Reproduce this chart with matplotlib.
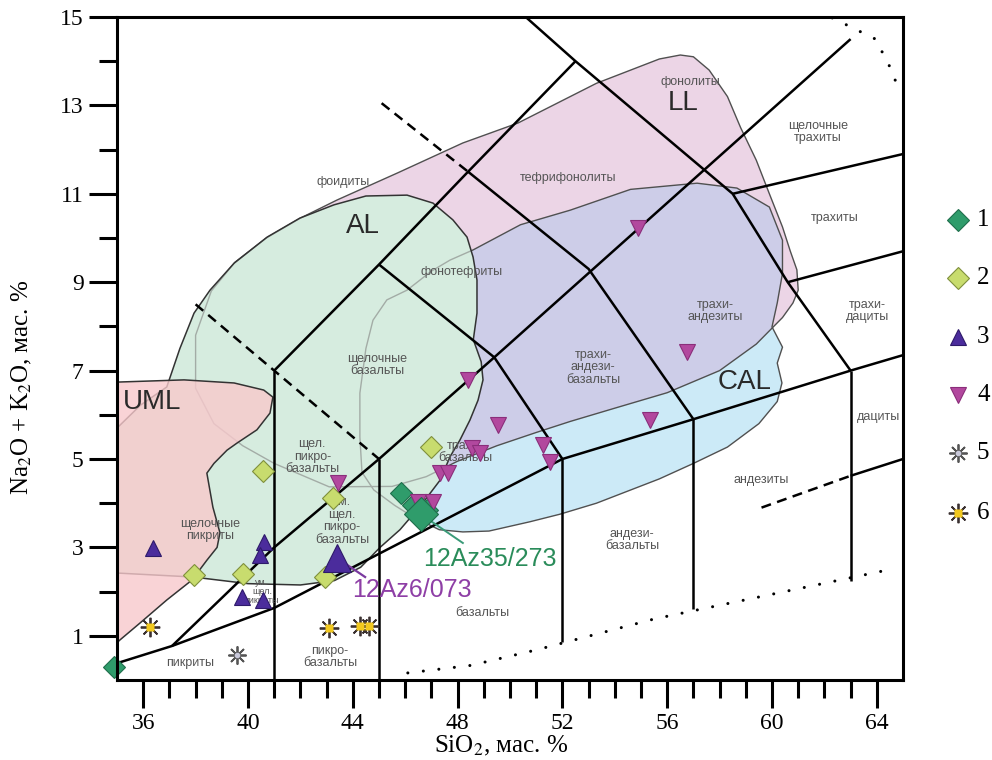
import matplotlib
matplotlib.use("Agg")
import matplotlib.pyplot as plt
from matplotlib.patches import Polygon

plt.rcParams["font.family"] = ["Liberation Serif", "DejaVu Serif"]
plt.rcParams["mathtext.fontset"] = "stix"

# ---- пробы: SiO2 / Na2O+K2O, мас. % ----
sio2_1 = [34.9, 45.85, 46.3, 46.85]
alk_1 = [0.3, 4.23, 3.95, 3.85]
sio2_2 = [40.57, 43.24, 37.94, 39.81, 42.94, 47.0]
alk_2 = [4.73, 4.12, 2.38, 2.40, 2.33, 5.27]
sio2_3 = [36.37, 40.6, 40.46, 39.77, 40.57]
alk_3 = [2.99, 3.13, 2.83, 1.88, 1.81]
sio2_4 = [43.43, 48.4, 49.55, 48.55, 48.85, 47.33, 47.63, 46.49, 47.06,
          51.26, 51.53, 55.34, 56.76, 54.9]
alk_4 = [4.45, 6.79, 5.77, 5.25, 5.13, 4.68, 4.68, 4.03, 4.03,
         5.32, 4.93, 5.88, 7.42, 10.23]
sio2_5 = [39.58]
alk_5 = [0.57]
sio2_6 = [36.26, 43.09, 44.27, 44.6]
alk_6 = [1.2, 1.18, 1.22, 1.22]

# выделенные пробы
az35_name, az35 = "12Az35/273", (46.6, 3.75)
az6_name, az6 = "12Az6/073", (43.4, 2.76)

# ---- границы классификационных полей ----
tas_solid = [
    [(35.0, 0.38), (37.1, 0.77), (41.0, 1.63), (52.0, 5.0), (57.0, 5.9), (63.0, 7.0), (65.0, 7.35)],
    [(37.1, 0.77), (41.0, 3.0), (45.0, 5.0), (49.4, 7.3), (63.0, 14.5)],
    [(41.0, 0.0), (41.0, 7.0)],
    [(45.0, 0.0), (45.0, 5.0)],
    [(52.0, 0.85), (52.0, 5.0)],
    [(57.0, 1.6), (57.0, 5.9)],
    [(63.0, 2.25), (63.0, 7.0)],
    [(41.0, 7.0), (45.0, 9.4), (48.4, 11.5), (52.5, 14.0)],
    [(50.6, 15.0), (52.5, 14.0), (58.5, 11.0), (60.6, 9.0), (63.0, 7.0)],
    [(45.0, 9.4), (49.4, 7.3), (52.0, 5.0)],
    [(48.4, 11.5), (53.0, 9.3), (57.0, 5.9)],
    [(58.5, 11.0), (65.0, 11.9)],
    [(60.6, 9.0), (65.0, 9.7)],
    [(63.0, 4.62), (65.0, 5.0)],
]
tas_dashed = [
    [(38.0, 8.5), (45.0, 5.0)],
    [(45.1, 13.05), (48.4, 11.5)],
    [(59.6, 3.9), (63.0, 4.62)],
]
tas_dotted = [
    [(46.1, 0.16), (48.5, 0.33), (51.0, 0.68), (55.5, 1.38), (64.5, 2.5)],
    [(62.3, 14.98), (63.4, 14.66), (63.95, 14.5), (64.5, 13.87), (64.75, 13.5)],
]

# ---- контуры серий ----
ll_edge = [(38.0, 7.8), (38.6, 8.8), (39.5, 9.45), (40.7, 10.0), (42.0, 10.45), (43.4, 10.86),
           (45.7, 11.47), (48.2, 12.15), (50.3, 12.6), (53.3, 13.5), (55.7, 14.05), (56.5, 14.14),
           (57.0, 14.1), (57.6, 13.8), (58.3, 13.2), (58.8, 12.5), (59.4, 11.76), (59.9, 11.0),
           (60.4, 10.25), (60.7, 9.7), (60.95, 9.28), (61.0, 8.82), (60.8, 8.53), (60.4, 8.2),
           (60.2, 8.08), (59.4, 7.6), (58.0, 7.0), (56.0, 6.5), (54.0, 6.15), (52.3, 5.85),
           (51.0, 5.6), (49.5, 5.3), (48.0, 4.95), (46.8, 4.6), (45.5, 4.38), (43.1, 4.37),
           (41.0, 4.9), (39.8, 5.3), (38.7, 5.8), (38.0, 6.6)]
cal_edge = [(48.59, 9.73), (50.4, 10.3), (52.3, 10.63), (54.6, 11.1), (57.14, 11.24), (58.66, 11.13),
            (59.9, 10.7), (60.4, 9.95), (60.4, 9.2), (60.2, 8.53), (60.0, 7.99), (60.4, 7.53),
            (60.2, 7.17), (60.38, 6.72), (60.2, 6.3), (59.5, 5.8), (58.3, 5.27), (57.0, 4.9),
            (55.7, 4.55), (53.3, 4.0), (51.9, 3.75), (50.76, 3.58), (49.2, 3.37), (48.2, 3.35),
            (47.3, 3.4), (46.3, 3.69), (45.6, 3.95), (44.8, 4.3), (44.35, 4.7), (44.27, 5.5),
            (44.27, 6.49), (44.5, 7.5), (44.77, 8.14), (45.3, 8.6), (46.07, 8.82), (47.0, 9.25),
            (47.71, 9.5)]
al_edge = [(34.5, 5.45), (35.0, 5.7), (35.9, 6.22), (36.9, 6.63), (37.4, 7.5), (37.94, 8.3),
           (38.55, 8.82), (39.47, 9.43), (40.73, 10.02), (41.98, 10.45), (43.28, 10.75),
           (44.5, 10.95), (46.07, 10.97), (47.06, 10.79), (47.82, 10.41), (48.36, 10.02),
           (48.59, 9.57), (48.74, 9.05), (48.74, 8.3), (48.6, 7.7), (48.9, 7.2), (48.97, 6.79),
           (48.78, 6.33), (48.47, 5.88), (48.09, 5.43), (47.71, 5.05), (47.33, 4.52), (46.6, 3.95),
           (45.8, 3.4), (45.04, 3.0), (44.3, 2.55), (43.3, 2.25), (42.0, 2.15), (40.0, 2.18),
           (37.9, 2.33), (35.0, 2.42), (34.5, 2.45)]
uml_edge = [(34.5, 0.6), (35.0, 0.84), (35.1, 0.9), (35.88, 1.29), (36.9, 1.81), (37.86, 2.26),
            (38.43, 2.71), (38.82, 3.0), (38.93, 3.33), (38.66, 3.91), (38.43, 4.68), (38.7, 4.9),
            (39.2, 5.2), (39.58, 5.36), (40.34, 5.66), (40.84, 6.04), (40.95, 6.4), (40.6, 6.56),
            (39.47, 6.72), (37.56, 6.79), (35.0, 6.74), (34.5, 6.74)]

# ---- названия полей ----
field_names = [
    ("фоидиты", 43.63, 11.27), ("тефрифонолиты", 52.2, 11.36), ("фонолиты", 56.87, 13.53),
    ("щелочные\nтрахиты", 61.76, 12.4), ("трахиты", 62.4, 10.45), ("трахи-\nдациты", 63.63, 8.35),
    ("дациты", 64.05, 5.95), ("трахи-\nандезиты", 57.82, 8.35), ("фонотефриты", 48.17, 9.23),
    ("щелочные\nбазальты", 44.92, 7.13), ("трахи-\nандези-\nбазальты", 53.17, 7.08),
    ("трахи-\nбазальты", 48.28, 5.16), ("щел.\nпикро-\nбазальты", 42.45, 5.05),
    ("ум.\nщел.\nпикро-\nбазальты", 43.59, 3.6), ("андезиты", 59.6, 4.52),
    ("андези-\nбазальты", 54.66, 3.17), ("базальты", 48.93, 1.52),
    ("пикро-\nбазальты", 43.13, 0.52), ("пикриты", 37.79, 0.38),
    ("щелочные\nпикриты", 38.55, 3.39),
]
small_names = [("ум.\nщел.\nпикриты", 40.53, 2.01)]
series_names = [("LL", 56.6, 13.05), ("AL", 44.39, 10.27), ("CAL", 58.97, 6.74), ("UML", 36.34, 6.29)]

sans = ["Liberation Sans", "DejaVu Sans"]

fig = plt.figure(figsize=(9.92, 7.6), dpi=100)
ax = fig.add_axes([117 / 992, 80 / 760, 786 / 992, 663 / 760])
ax.set_xlim(35, 65)
ax.set_ylim(0, 15)

# заливки серий
ll = Polygon(ll_edge, closed=True, fc="#ecd5e6", ec="none", zorder=1)
cal = Polygon(cal_edge, closed=True, fc="#cceaf7", ec="none", zorder=1.1)
ax.add_patch(ll)
ax.add_patch(cal)
both = Polygon(cal_edge, closed=True, fc="#cdcde8", ec="none", zorder=1.2)
ax.add_patch(both)
both.set_clip_path(ll)
for pts in (ll_edge, cal_edge):
    ax.add_patch(Polygon(pts, closed=True, fc="none", ec="#505050", lw=1.0, zorder=1.3))

al = Polygon(al_edge, closed=True, fc="#d6ecdf", ec="none", zorder=2)
ax.add_patch(al)
for pts in (ll_edge, cal_edge):
    ghost = Polygon(pts, closed=True, fc="none", ec="#a3aca6", lw=1.0, zorder=2.1)
    ax.add_patch(ghost)
    ghost.set_clip_path(al)
ax.add_patch(Polygon(al_edge, closed=True, fc="none", ec="#333333", lw=1.1, zorder=2.2))

ax.add_patch(Polygon(uml_edge, closed=True, fc="#f8c9cc", ec="none", alpha=0.8, zorder=3))
ax.add_patch(Polygon(uml_edge, closed=True, fc="none", ec="#333333", lw=1.1, zorder=3.1))

# линии диаграммы
for seg in tas_solid:
    xs, ys = zip(*seg)
    ax.plot(xs, ys, color="black", lw=1.8, zorder=4, solid_capstyle="butt")
for seg in tas_dashed:
    xs, ys = zip(*seg)
    ax.plot(xs, ys, color="black", lw=1.8, ls=(0, (4.0, 2.6)), zorder=4)
for seg in tas_dotted:
    xs, ys = zip(*seg)
    ax.plot(xs, ys, color="black", lw=2.2, ls=(0, (0.01, 5.1)),
            dash_capstyle="round", zorder=4)

for txt, x, y in field_names:
    ax.text(x, y, txt, ha="center", va="center", fontsize=9, color="#555555",
            family=sans, linespacing=1.05, zorder=5)
for txt, x, y in small_names:
    ax.text(x, y, txt, ha="center", va="center", fontsize=6.5, color="#555555",
            family=sans, linespacing=1.0, zorder=5)
for txt, x, y in series_names:
    ax.text(x, y, txt, ha="center", va="center", fontsize=20, color="#2a2a2a",
            family=sans, zorder=5)

# точки
styles = [
    dict(marker="D", ms=11, mfc="#2f9c6b", mec="#1f6e4c", mew=0.8),
    dict(marker="D", ms=11, mfc="#c8dc6e", mec="#7f8f3c", mew=0.8),
    dict(marker="^", ms=12, mfc="#4b2c9c", mec="#2e1a6a", mew=0.8),
    dict(marker="v", ms=11, mfc="#b2489e", mec="#8a2e7a", mew=0.8),
]
groups = [(sio2_1, alk_1), (sio2_2, alk_2), (sio2_3, alk_3), (sio2_4, alk_4)]
for (xs, ys), st in zip(groups, styles):
    ax.plot(xs, ys, ls="none", zorder=6, clip_on=False, **st)

ax.plot(sio2_5, alk_5, ls="none", marker=(8, 2, 0), ms=13, mec="#555555", mew=1.3, zorder=6)
ax.plot(sio2_5, alk_5, ls="none", marker="o", ms=4, mfc="#c9c9db", mec="none", zorder=6.1)
ax.plot(sio2_6, alk_6, ls="none", marker=(8, 2, 0), ms=14, mec="#3a3030", mew=1.3, zorder=6)
ax.plot(sio2_6, alk_6, ls="none", marker="s", ms=6, mfc="#f2c81e", mec="none", zorder=6.1)

# выделенные пробы с подписями
ax.plot([az35[0], 48.2], [az35[1], 3.1], color="#3a9a78", lw=1.4, zorder=5.5)
ax.plot(*az35, ls="none", marker="D", ms=17, mfc="#2f9c6b", mec="#1f6e4c", mew=0.8, zorder=6)
ax.text(46.68, 2.74, az35_name, fontsize=18, color="#2a8c5a", family=sans,
        ha="left", va="center", zorder=7)
ax.plot([az6[0], 44.47], [az6[1], 2.33], color="#7a3aa0", lw=1.6, zorder=5.5)
ax.plot(*az6, ls="none", marker="^", ms=20, mfc="#4b2c9c", mec="#2e1a6a", mew=0.8, zorder=6)
ax.text(43.97, 2.04, az6_name, fontsize=18, color="#8e3fa6", family=sans,
        ha="left", va="center", zorder=7)

# оси
ax.set_xticks(range(36, 65, 4))
ax.set_xticks([v for v in range(36, 65) if (v - 36) % 4], minor=True)
ax.set_yticks(range(1, 16, 2))
ax.set_yticks(range(2, 15, 2), minor=True)
ax.tick_params(which="major", direction="out", length=20, width=2.2, labelsize=17, pad=4)
ax.tick_params(which="minor", direction="out", length=13, width=2.2)
for sp in ax.spines.values():
    sp.set_linewidth(2.2)
    sp.set_zorder(8)

ax.set_xlabel("SiO$_2$, мас. %", fontsize=18)
ax.set_ylabel("Na$_2$O + K$_2$O, мас. %", fontsize=18)
ax.xaxis.set_label_coords(0.489, -0.082)
ax.yaxis.set_label_coords(-0.106, 0.442)

# легенда
leg = fig.add_axes([0, 0, 1, 1], facecolor="none")
leg.set_xlim(0, 992)
leg.set_ylim(760, 0)
leg.axis("off")
leg_rows = [220, 278, 337, 395, 453, 513]
for i, st in enumerate(styles):
    leg.plot(958, leg_rows[i], ls="none", **st)
leg.plot(958, leg_rows[4], ls="none", marker=(8, 2, 0), ms=13, mec="#555555", mew=1.3)
leg.plot(958, leg_rows[4], ls="none", marker="o", ms=4, mfc="#c9c9db", mec="none")
leg.plot(958, leg_rows[5], ls="none", marker=(8, 2, 0), ms=14, mec="#3a3030", mew=1.3)
leg.plot(958, leg_rows[5], ls="none", marker="s", ms=6, mfc="#f2c81e", mec="none")
for i, y in enumerate(leg_rows):
    leg.text(977, y, str(i + 1), fontsize=18, ha="left", va="center")

fig.savefig("out.png", dpi=100)
